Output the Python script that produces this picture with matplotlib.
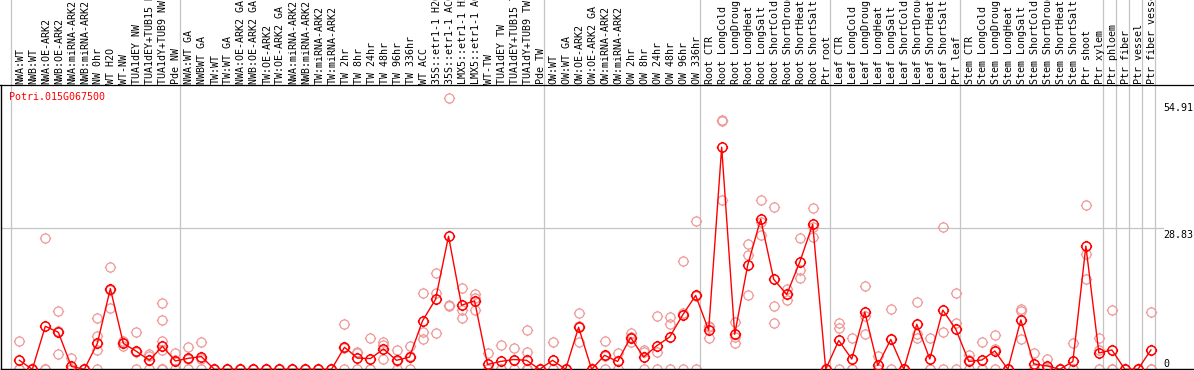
import matplotlib
matplotlib.use("Agg")
import matplotlib.pyplot as plt
from matplotlib.path import Path
import numpy as np

title = "Potri.015G067500"

labels = [
    "NWA:WT", "NWB:WT", "NWA:OE-ARK2", "NWB:OE-ARK2", "NWA:miRNA-ARK2", "NWB:miRNA-ARK2",
    "NW 0hr", "WT H2O", "WT-NW", "TUA1dEY NW", "TUA1dEY+TUB15 NW", "TUA1dY+TUB9 NW", "Pde NW",
    "NWA:WT GA", "NWBWT GA", "TW:WT", "TW:WT GA", "NWA:OE-ARK2 GA", "NWB:OE-ARK2 GA",
    "TW:OE-ARK2", "TW:OE-ARK2 GA", "NWA:miRNA-ARK2", "NWB:miRNA-ARK2", "TW:miRNA-ARK2",
    "TW:miRNA-ARK2", "TW 2hr", "TW 8hr", "TW 24hr", "TW 48hr", "TW 96hr", "TW 336hr",
    "WT ACC", "35S::etr1-1 H2O", "35S::etr1-1 ACC", "LMX5::etr1-1 H2O", "LMX5::etr1-1 ACC",
    "WT-TW", "TUA1dEY TW", "TUA1dEY+TUB15 TW", "TUA1dY+TUB9 TW", "Pde TW",
    "OW:WT", "OW:WT GA", "OW:OE-ARK2", "OW:OE-ARK2 GA", "OW:miRNA-ARK2", "OW:miRNA-ARK2",
    "OW 2hr", "OW 8hr", "OW 24hr", "OW 48hr", "OW 96hr", "OW 336hr",
    "Root CTR", "Root LongCold", "Root LongDrought", "Root LongHeat", "Root LongSalt",
    "Root ShortCold", "Root ShortDrought", "Root ShortHeat", "Root ShortSalt", "Ptr root",
    "Leaf CTR", "Leaf LongCold", "Leaf LongDrought", "Leaf LongHeat", "Leaf LongSalt",
    "Leaf ShortCold", "Leaf ShortDrought", "Leaf ShortHeat", "Leaf ShortSalt", "Ptr leaf",
    "Stem CTR", "Stem LongCold", "Stem LongDrought", "Stem LongHeat", "Stem LongSalt",
    "Stem ShortCold", "Stem ShortDrought", "Stem ShortHeat", "Stem ShortSalt", "Ptr shoot",
    "Ptr xylem", "Ptr phloem", "Ptr fiber", "Ptr vessel", "Ptr fiber vessel",
]

# group boundaries (index of first category of each group, plus end)
group_starts = [0, 13, 41, 53, 63, 73, 84, 85, 86, 87, 88]

means = [
    1.84, 0, 8.79, 7.57, 0.6, 0, 5.3, 16.5, 5.3, 3.68, 1.84, 4.7, 1.7,
    2.25, 2.6, 0, 0, 0, 0, 0, 0, 0, 0, 0, 0, 4.5, 2.3, 2.2, 4.16, 1.84, 2.5,
    9.9, 14.3, 27.2, 13.1, 14.0, 1.0, 1.6, 2.0, 1.84, 0,
    1.84, 0, 8.6, 0, 2.86, 1.6, 6.5, 2.5, 4.8, 6.6, 11.1, 15.1,
    8.0, 45.4, 7.16, 21.3, 30.7, 18.4, 15.3, 21.9, 29.65, 0,
    5.9, 2.1, 11.7, 0.8, 6.1, 0, 9.2, 2.1, 12.1, 8.2,
    1.6, 1.9, 3.75, 0, 10.1, 1.1, 0.7, 0, 1.6, 25.2, 3.34,
    3.95, 0, 0, 3.95,
]

replicates = [
    [5.7, 0, 0], [0, 0, 0], [26.8, 0, 0], [11.86, 3.07, 7.8], [2.3, 0, 0], [0, 0, 0],
    [10.4, 6.75, 4.0, 0], [20.86, 12.47, 16.2], [5.7, 4.8, 5.4], [7.57, 0, 3.47],
    [3.07, 2.8, 0], [13.5, 10.0, 5.8, 3.9, 0, 0, 0], [3.27, 1.8, 0],
    [4.57, 2.2, 0], [5.6, 2.2, 0], [0, 0, 0], [0, 0, 0], [0, 0, 0], [0, 0, 0],
    [0, 0, 0], [0, 0, 0], [0, 0, 0], [0, 0, 0], [0, 0, 0], [0, 0, 0],
    [9.2, 4.3, 0], [3.3, 3.6, 0], [6.5, 0, 0], [5.5, 4.9, 2.1], [3.9, 1.6, 0], [4.8, 2.8, 0],
    [15.7, 7.6, 6.2], [19.6, 15.7, 7.4], [55.4, 13.1, 12.9], [16.6, 12.1, 10.4],
    [15.4, 12.1, 14.6], [3.27, 0, 0], [4.9, 0, 0], [4.3, 1.8, 0],
    [8.0, 3.5, 0, 0, 0, 0], [0, 0, 0],
    [5.6, 0, 0], [0, 0, 0], [11.45, 5.5, 8.9], [0, 0, 0], [5.8, 2.8, 0], [3.27, 1.6, 0],
    [7.4, 5.5, 6.6], [3.95, 3.6, 0], [11.0, 3.5, 0], [10.6, 9.2, 0], [22.1, 11.6, 0],
    [30.3, 15.0, 0],
    [8.7, 6.5, 8.8], [51.0, 50.7, 34.6], [9.6, 5.3, 6.6], [25.6, 23.3, 15.1],
    [34.6, 27.4, 30.2], [33.1, 12.9, 9.4], [16.4, 14.2, 15.3], [26.8, 20.4, 18.6],
    [32.9, 27.0, 29.0], [0, 0, 0],
    [9.4, 8.5, 0], [6.5, 0, 0], [17.0, 7.2, 11.0], [2.8, 0, 0], [12.3, 6.1, 0], [0, 0, 0],
    [13.8, 6.5, 7.3], [6.3, 0, 0], [29.0, 7.6, 0], [15.5, 9.4, 0],
    [2.86, 2.0, 0], [5.6, 0, 0], [6.95, 4.2, 0], [0, 0, 0], [12.3, 12.0, 6.2],
    [3.27, 0, 0], [2.2, 0, 0], [0, 0, 0], [5.3, 0, 0], [33.5, 23.5, 18.4], [6.3, 3.95, 0],
    [12.1, 0, 0], [0, 0, 0], [0, 0, 0], [11.7, 0, 0],
]

ytick_values = [0, 28.83, 54.91]
ytick_labels = ["0", "28.83", "54.91"]

# ---------------------------------------------------------------- layout
W, H = 1194, 370
DPI = 100
fig = plt.figure(figsize=(W / DPI, H / DPI), dpi=DPI)

px0, step = 19.3, 13.007          # pixel x of first category, pixel spacing
def px2idx(p):
    return (p - px0) / step

y_zero_px, y_top_px = 369.3, 85.0   # pixel rows of value 0 and of the plot top
px_per_unit = 141.0 / 28.83
ytop = (y_zero_px - y_top_px) / px_per_unit

ax = fig.add_axes([1 / W, (H - y_zero_px) / H, (W - 1) / W, (y_zero_px - y_top_px) / H])
ax.set_xlim(px2idx(1), px2idx(W))
ax.set_ylim(0, ytop)
ax.set_xticks([])
ax.set_yticks([])
for s in ["right"]:
    ax.spines[s].set_visible(False)
for s in ["left", "bottom", "top"]:
    ax.spines[s].set_color("black")
    ax.spines[s].set_linewidth(1.0)
ax.spines["top"].set_visible(False)

# top separator line across whole width
fig.add_artist(plt.Line2D([0, 1], [1 - y_top_px / H, 1 - y_top_px / H],
                          color="black", lw=0.9, transform=fig.transFigure))

# label strip axes
lax = fig.add_axes([0, 1 - y_top_px / H, 1, y_top_px / H])
lax.set_xlim(px2idx(0), px2idx(W))
lax.set_ylim(0, y_top_px)
lax.axis("off")

grey = "#c4c4c4"
for g in group_starts:
    xb = g - 0.661
    ax.axvline(xb, color=grey, lw=0.9, zorder=1)
    lax.axvline(xb, color=grey, lw=0.9, zorder=1)

# horizontal gridline at 28.83 up to the y label column
ax.plot([px2idx(1), px2idx(1163)], [28.83, 28.83], color=grey, lw=0.9, zorder=1,
        clip_on=False)

mono = "DejaVu Sans Mono"
fs = 7.2
x = np.arange(len(labels))
for i, lab in enumerate(labels):
    lax.text(i + 0.08, y_top_px - 83.5, lab, rotation=90, ha="center", va="bottom",
             fontsize=fs, family=mono, color="black")

# custom marker: circle with small ticks
circ = Path.circle((0, 0), 1.0)
ticks = []
for dx, dy in [(0, 1), (0, -1), (1, 0), (-1, 0)]:
    ticks.append(Path([[dx * 1.0, dy * 1.0], [dx * 1.25, dy * 1.25]],
                      [Path.MOVETO, Path.LINETO]))
marker_path = Path.make_compound_path(circ, *ticks)
msize = 8.2

# replicates
for i, reps in enumerate(replicates):
    ax.plot([i] * len(reps), reps, linestyle="none", marker=marker_path,
            markersize=msize, markerfacecolor="none", markeredgecolor="#ee9999",
            markeredgewidth=0.9, zorder=2)

# mean line
ax.plot(x, means, color="#ff0000", lw=1.0, marker=marker_path, markersize=msize,
        markerfacecolor="none", markeredgecolor="#ff0000", markeredgewidth=1.1,
        zorder=3)

# title
fig.text(9.3 / W, 1 - 96.7 / H, title, color="#ff0000", fontsize=fs, family=mono,
         ha="left", va="center")

# y value labels on the right
for v, t in zip(ytick_values, ytick_labels):
    if v == 0:
        ax.text(px2idx(1163), v, t, ha="left", va="bottom", fontsize=fs, family=mono,
                color="black", transform=ax.transData)
        continue
    ax.annotate(t, xy=(px2idx(1163), v), xytext=(0, -1.5), textcoords="offset points",
                ha="left", va="top", fontsize=fs, family=mono, color="black",
                annotation_clip=False)

fig.savefig("out.png", dpi=DPI)
